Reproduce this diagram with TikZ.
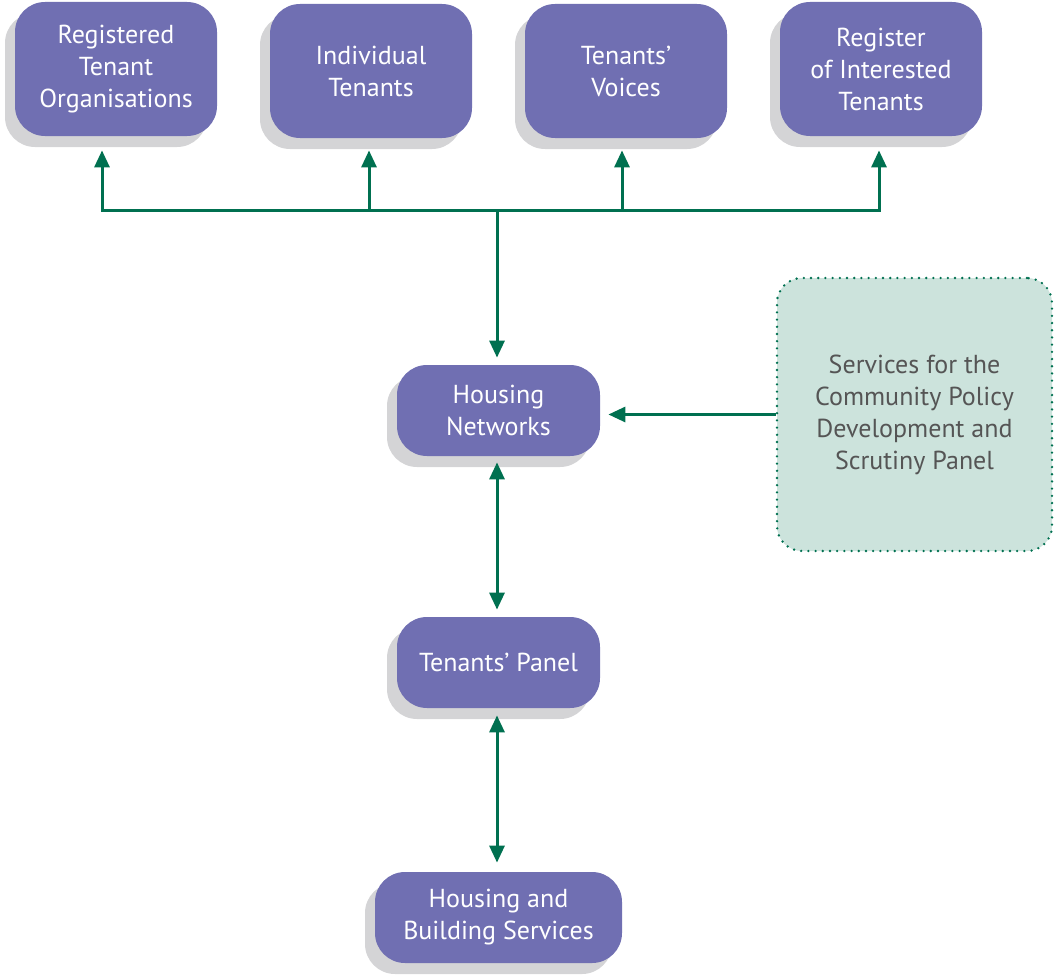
\documentclass[tikz,border=0pt]{standalone}
\usepackage{fontspec}
\setmainfont{PT Sans}
\usetikzlibrary{arrows.meta,shadows}

\definecolor{boxpurple}{RGB}{112,111,178}
\definecolor{shadowgrey}{RGB}{212,212,214}
\definecolor{arrowgreen}{RGB}{0,112,80}
\definecolor{panelmint}{RGB}{204,227,220}
\definecolor{textgrey}{RGB}{85,85,85}

\begin{document}
\begin{tikzpicture}
    [ x=0.5pt, y=-0.5pt
    , group/.style={rectangle, rounded corners=15pt, fill=boxpurple, text=white,
        align=center, font=\fontsize{13}{16}\selectfont, inner sep=0pt,
        drop shadow={shadow xshift=-5pt, shadow yshift=-5.5pt, fill=shadowgrey, opacity=1}}
    , topgroup/.style={group, minimum width=101pt, minimum height=67pt}
    , midgroup/.style={group, minimum width=101.5pt, minimum height=45.5pt}
    , panel/.style={rectangle, rounded corners=12.5pt, fill=panelmint, draw=arrowgreen,
        line width=1.3pt, dash pattern=on 0pt off 3.6pt, line cap=round,
        text=textgrey, align=center, font=\fontsize{13}{16}\selectfont,
        minimum width=137.5pt, minimum height=136.5pt}
    , link/.style={draw=arrowgreen, line width=1.5pt}
    , arr/.style={link, -{Triangle[width=7.5pt,length=8.5pt]}}
    , biarr/.style={link, {Triangle[width=7.5pt,length=8.5pt]}-{Triangle[width=7.5pt,length=8.5pt]}}
    ]
\useasboundingbox (0,0) rectangle (1054,974);

\node[topgroup] (rto)    at (116,69) {Registered\\Tenant\\Organisations};
\node[topgroup, minimum height=67pt] (ind)    at (371,71) {Individual\\Tenants};
\node[topgroup] (voices) at (626,71) {Tenants’\\Voices};
\node[topgroup] (roit)   at (881,69) {Register\\of Interested\\Tenants};

\node[midgroup] (hn)  at (498.5,410.5) {Housing\\Networks};
\node[midgroup] (tp)  at (498.5,662.5) {Tenants’ Panel};
\node[midgroup, minimum width=123.5pt] (hbs) at (498.5,917.5) {Housing and\\Building Services};

\node[panel] (scrutiny) at (914.5,414.5)
    {Services for the\\Community Policy\\Development and\\Scrutiny Panel};

% distribution bar above the networks
\coordinate (hub) at (497,210);
\draw[arr] (hub) -| ([xshift=-7pt,yshift=-7pt]rto.south);
\draw[arr] (hub) -| ([xshift=-1pt,yshift=-6pt]ind.south);
\draw[arr] (hub) -| ([xshift=-2pt,yshift=-6pt]voices.south);
\draw[arr] (hub) -| ([xshift=-1pt,yshift=-7pt]roit.south);
\draw[arr] (hub) -- ([xshift=-0.75pt,yshift=3.5pt]hn.north);

\draw[arr] (scrutiny.west) -- ([xshift=4pt]scrutiny.west -| hn.east);
\draw[biarr] ([xshift=-0.75pt,yshift=-3pt]hn.south) -- ([xshift=-0.75pt,yshift=3.5pt]tp.north);
\draw[biarr] ([xshift=-0.75pt,yshift=-3.5pt]tp.south) -- ([xshift=-0.75pt,yshift=4.5pt]hbs.north);
\end{tikzpicture}
\end{document}
